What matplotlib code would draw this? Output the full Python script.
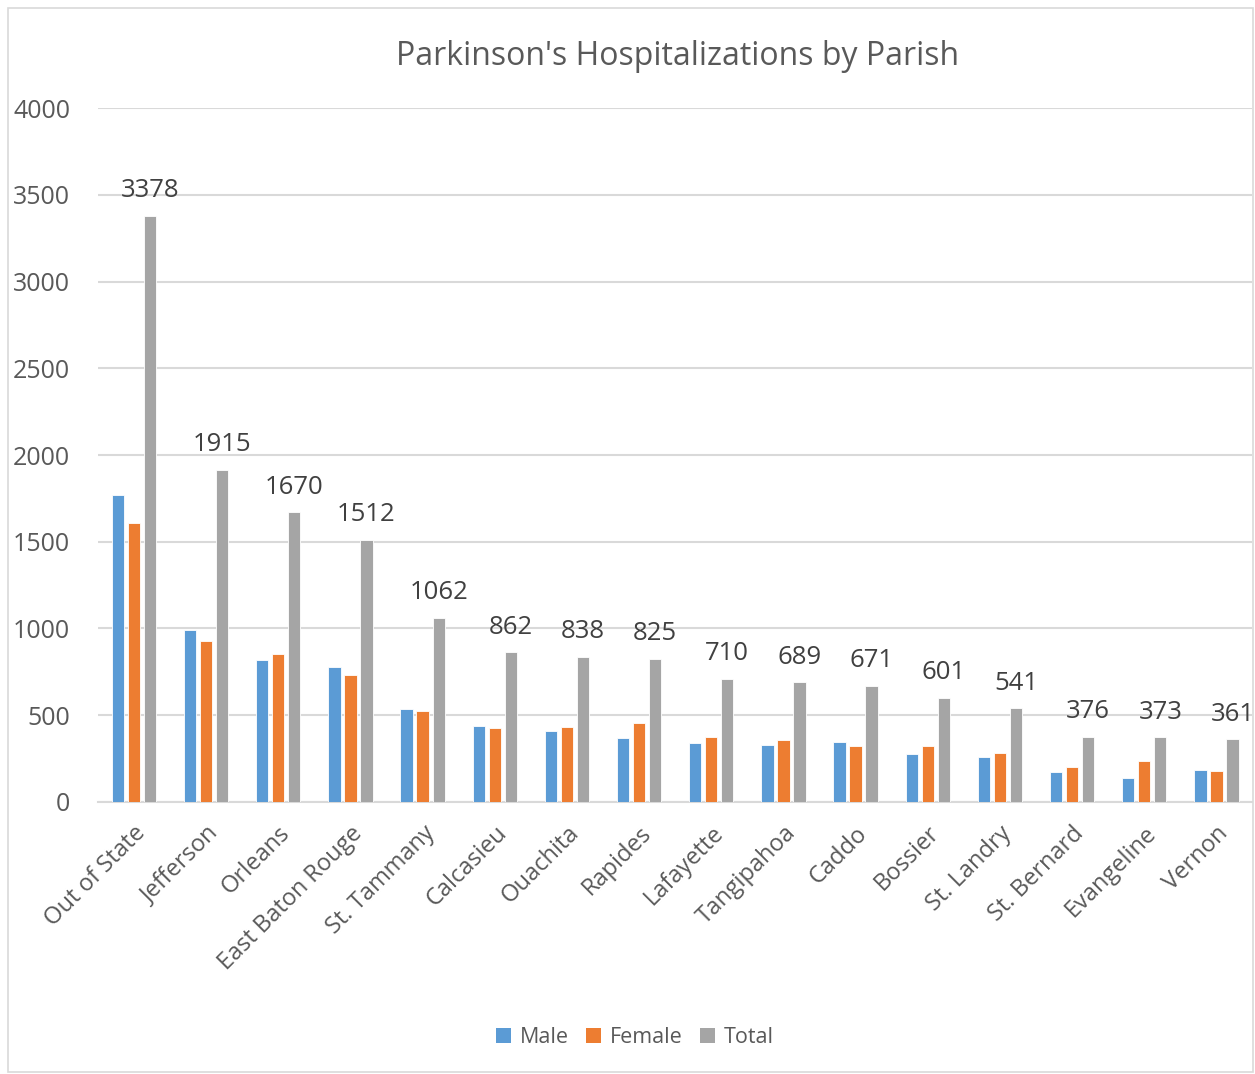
import matplotlib
matplotlib.use("Agg")
import matplotlib.pyplot as plt
import numpy as np
from matplotlib.patches import Rectangle, Patch

categories = ["Out of State", "Jefferson", "Orleans", "East Baton Rouge", "St. Tammany",
              "Calcasieu", "Ouachita", "Rapides", "Lafayette", "Tangipahoa", "Caddo",
              "Bossier", "St. Landry", "St. Bernard", "Evangeline", "Vernon"]
male = [1768, 990, 817, 780, 535, 435, 408, 370, 338, 330, 347, 277, 260, 174, 136, 185]
female = [1610, 925, 853, 732, 527, 427, 430, 455, 372, 359, 324, 324, 281, 202, 237, 176]
total = [3378, 1915, 1670, 1512, 1062, 862, 838, 825, 710, 689, 671, 601, 541, 376, 373, 361]
yticks = [0, 500, 1000, 1500, 2000, 2500, 3000, 3500, 4000]

plt.rcParams['font.family'] = ['Open Sans', 'DejaVu Sans']
txt = '#595959'

fig = plt.figure(figsize=(12.55, 10.74), dpi=100)
ax = fig.add_axes([0.078, 0.2533, 0.92, 0.6461])

x = np.arange(len(categories))
w = 0.17
step = 0.222
colors = ['#5B9BD5', '#ED7D31', '#A5A5A5']
for i, (vals, c) in enumerate(zip([male, female, total], colors)):
    ax.bar(x + (i - 1) * step, vals, width=w, color=c, edgecolor='white', linewidth=0.6, zorder=3)

for xi, t in zip(x, total):
    ax.annotate(str(t), (xi + step, t), xytext=(0, 9), textcoords='offset points',
                ha='center', va='bottom', fontsize=18.5, color='#404040')

ax.set_xlim(-0.5, len(categories) - 0.5)
ax.set_ylim(0, 4000)
ax.set_yticks(yticks)
ax.set_yticklabels([str(v) for v in yticks], fontsize=18, color=txt)
ax.grid(axis='y', color='#d9d9d9', linewidth=1.5, zorder=0)
ax.set_axisbelow(True)
for s in ['left', 'right', 'top']:
    ax.spines[s].set_visible(False)
ax.spines['bottom'].set_color('#d9d9d9')
ax.spines['bottom'].set_linewidth(1.5)
ax.tick_params(axis='y', length=0, pad=20)
ax.tick_params(axis='x', length=0, pad=14)
ax.set_xticks(x)
ax.set_xticklabels(categories, rotation=45, ha='right', rotation_mode='anchor', fontsize=17, color=txt)

fig.text(0.54, 0.947, "Parkinson's Hospitalizations by Parish", ha='center', va='center',
         fontsize=23, color=txt)

handles = [Patch(facecolor=c) for c in colors]
fig.legend(handles, ['Male', 'Female', 'Total'], loc='center', bbox_to_anchor=(0.506, 0.034),
           ncol=3, frameon=False, fontsize=15.5, labelcolor=txt, handlelength=0.7,
           handleheight=0.7, handletextpad=0.4, columnspacing=0.8)

fig.patches.append(Rectangle((0.0064, 0.002), 0.9920, 0.9905, transform=fig.transFigure,
                             fill=False, edgecolor='#d9d9d9', linewidth=1.2))

fig.savefig('out.png', dpi=100, facecolor='white')
